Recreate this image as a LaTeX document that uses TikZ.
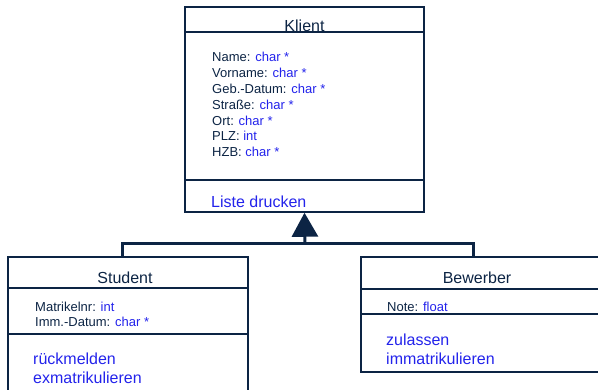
\documentclass[tikz,border=0pt]{standalone}
\usepackage{fontspec}
\setmainfont{Liberation Sans}
\usetikzlibrary{arrows.meta, positioning}

\definecolor{umlnavy}{RGB}{12,36,68}
\definecolor{umlblue}{RGB}{35,35,235}
\tikzset{
  classbox/.style={draw=umlnavy, line width=1.5pt, inner sep=0pt},
  divider/.style={draw=umlnavy, line width=1.5pt},
  classname/.style={text=umlnavy, font=\fontsize{16}{19}\selectfont, anchor=base, inner sep=0pt},
  attrs/.style={text=umlnavy, font=\fontsize{13}{15.8}\selectfont, align=left, anchor=base west, inner sep=0pt},
  ops/.style={text=umlblue, font=\fontsize{16}{18.6}\selectfont, align=left, anchor=base west, inner sep=0pt},
  inherit/.style={draw=umlnavy, line width=3pt},
}
\newcommand{\typ}[1]{\textcolor{umlblue}{#1}}

\begin{document}
\begin{tikzpicture}[x=1pt, y=-1pt]
\useasboundingbox (0,0) rectangle (598,389);
\clip (0,0) rectangle (598,389);

% class boxes
\node[classbox, minimum width=239pt, minimum height=205pt] (klient) at (304.5,109.5) {};
\node[classbox, minimum width=240pt, minimum height=153pt] (student) at (128,333.5) {};
\node[classbox, minimum width=259pt, minimum height=115pt] (bewerber) at (490.5,314.5) {};

% compartments
\draw[divider] (klient.west |- 0,32) -- (klient.east |- 0,32);
\draw[divider] (klient.west |- 0,180) -- (klient.east |- 0,180);
\draw[divider] (student.west |- 0,288) -- (student.east |- 0,288);
\draw[divider] (student.west |- 0,334) -- (student.east |- 0,334);
\draw[divider] (bewerber.west |- 0,289) -- (bewerber.east |- 0,289);
\draw[divider] (bewerber.west |- 0,314) -- (bewerber.east |- 0,314);

% generalization
\coordinate (join) at (305,243);
\draw[inherit] (student.north -| 122,0) |- (join) -| (bewerber.north -| 473,0);
\draw[inherit, -{Triangle[length=24pt, width=26pt]}] (join) -- (klient.south);

% Klient (base = last line)
\node[classname] (klientname) at (304.5,31.5) {Klient};
\node[attrs] (klientattr) at (212,156.7) {Name: \typ{char *}\\
  Vorname: \typ{char *}\\
  Geb.-Datum: \typ{char *}\\
  Straße: \typ{char *}\\
  Ort: \typ{char *}\\
  PLZ: \typ{int}\\
  HZB: \typ{char *}};
\node[ops] (klientops) at (211,207) {Liste drucken};

% Student
\node[classname] (studentname) at (125,283) {Student};
\node[attrs, font=\fontsize{13}{15}\selectfont] (studentattr) at (35,326.7) {Matrikelnr: \typ{int}\\
  Imm.-Datum: \typ{char *}};
\node[ops] (studentops) at (33,383.3) {rückmelden\\exmatrikulieren};

% Bewerber
\node[classname] (bewerbername) at (477,283) {Bewerber};
\node[attrs] (bewerberattr) at (387,311) {Note: \typ{float}};
\node[ops] (bewerberops) at (386,364) {zulassen\\immatrikulieren};
\end{tikzpicture}
\end{document}
